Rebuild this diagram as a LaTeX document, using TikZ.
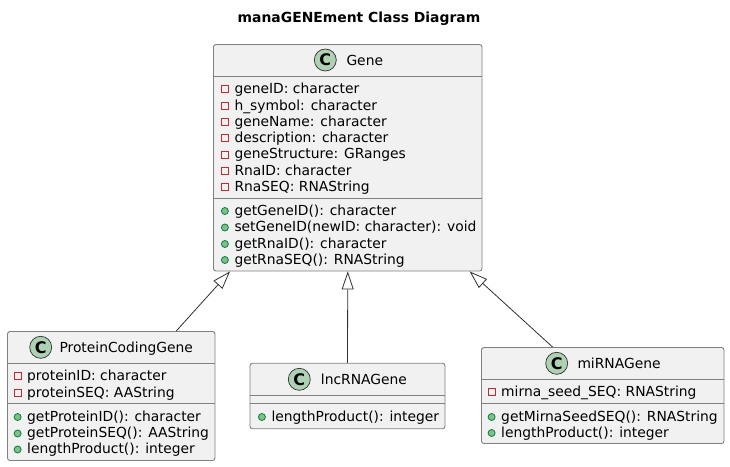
\documentclass[tikz,border=0pt]{standalone}
\usepackage{fontspec}
\setmainfont{DejaVu Sans}
\usepackage{tikz}
\usetikzlibrary{arrows.meta}
\definecolor{boxfill}{HTML}{F1F1F1}
\definecolor{boxline}{HTML}{808080}
\definecolor{arrowline}{HTML}{303030}
\definecolor{iconfill}{HTML}{ADD1B2}
\definecolor{privred}{HTML}{C82930}
\definecolor{pubfill}{HTML}{84BE84}
\definecolor{publine}{HTML}{038048}
\tikzstyle{classbox} = [draw=boxline,fill=boxfill,line width=0.9pt,rounded corners=2.5pt,inner sep=0pt]
\tikzstyle{classname} = [inner sep=0pt,anchor=west,text height=12pt,text depth=1.4pt,font=\fontsize{13.85}{16}\selectfont]
\tikzstyle{classicon} = [draw=arrowline,fill=iconfill,line width=0.7pt,circle,minimum size=22pt,inner sep=0pt,font=\fontsize{16}{18}\selectfont\bfseries]
\tikzstyle{privmark} = [draw=privred,line width=0.9pt,minimum size=7pt,inner sep=0pt,xshift=-5.5pt,yshift=-1pt]
\tikzstyle{pubmark} = [draw=publine,fill=pubfill,line width=0.8pt,circle,minimum size=7pt,inner sep=0pt,xshift=-5.5pt,yshift=-1pt]
\tikzstyle{priv} = [classname,label={[privmark]left:{}}]
\tikzstyle{pub} = [classname,label={[pubmark]left:{}}]
\tikzstyle{divider} = [boxline,line width=0.9pt]
\tikzstyle{extends} = [{Triangle[open,length=18pt,width=12pt,fill=white]}-,arrowline,line width=0.8pt]

\begin{document}
\begin{tikzpicture}[x=1pt,y=-1pt]
  \useasboundingbox (0,0) rectangle (730,466);
  \node (title)[inner sep=0pt,font=\fontsize{13.9}{16}\selectfont\bfseries] at (359,19) {manaGENEment Class Diagram};

  % Gene
  \node (gene)[classbox,minimum width=268.5pt,minimum height=226.5pt] at (347.75,157.75) {};
  \node (geneicon)[classicon] at (325.3,60) {C};
  \node (genename)[classname] at (346.3,60) {Gene};
  \draw[divider] (gene.west |- 0,76) -- (gene.east |- 0,76);
  \draw[divider] (gene.west |- 0,198.5) -- (gene.east |- 0,198.5);
  \node (g1)[priv] at (234.3,88) {geneID: character};
  \node (g2)[priv] at (234.3,105) {h\_symbol: character};
  \node (g3)[priv] at (234.3,121) {geneName: character};
  \node (g4)[priv] at (234.3,137) {description: character};
  \node (g5)[priv] at (234.3,153.5) {geneStructure: GRanges};
  \node (g6)[priv] at (234.3,170) {RnaID: character};
  \node (g7)[priv] at (234.3,186) {RnaSEQ: RNAString};
  \node (g8)[pub] at (234.3,210) {getGeneID(): character};
  \node (g9)[pub] at (234.3,226.5) {setGeneID(newID: character): void};
  \node (g10)[pub] at (234.3,243) {getRnaID(): character};
  \node (g11)[pub] at (234.3,259) {getRnaSEQ(): RNAString};

  % ProteinCodingGene
  \node (pcg)[classbox,minimum width=207.5pt,minimum height=129pt] at (111.25,396) {};
  \node (pcgicon)[classicon] at (40.7,347.3) {C};
  \node (pcgname)[classname] at (59.3,347.3) {ProteinCodingGene};
  \draw[divider] (pcg.west |- 0,363) -- (pcg.east |- 0,363);
  \draw[divider] (pcg.west |- 0,403.5) -- (pcg.east |- 0,403.5);
  \node (p1)[priv] at (27,375) {proteinID: character};
  \node (p2)[priv] at (27,392) {proteinSEQ: AAString};
  \node (p3)[pub] at (27,416) {getProteinID(): character};
  \node (p4)[pub] at (27,432.5) {getProteinSEQ(): AAString};
  \node (p5)[pub] at (27,448.5) {lengthProduct(): integer};

  % lncRNAGene
  \node (lnc)[classbox,minimum width=195pt,minimum height=65.5pt] at (347.5,396) {};
  \node (lncicon)[classicon] at (299.3,379.3) {C};
  \node (lncname)[classname] at (320.7,379.3) {lncRNAGene};
  \draw[divider] (lnc.west |- 0,395) -- (lnc.east |- 0,395);
  \draw[divider] (lnc.west |- 0,403.5) -- (lnc.east |- 0,403.5);
  \node (l1)[pub] at (271.3,416) {lengthProduct(): integer};

  % miRNAGene
  \node (mir)[classbox,minimum width=242.5pt,minimum height=96pt] at (602.75,395.5) {};
  \node (miricon)[classicon] at (556.7,363.3) {C};
  \node (mirname)[classname] at (577.3,363.3) {miRNAGene};
  \draw[divider] (mir.west |- 0,379) -- (mir.east |- 0,379);
  \draw[divider] (mir.west |- 0,403.5) -- (mir.east |- 0,403.5);
  \node (m1)[priv] at (501,391) {mirna\_seed\_SEQ: RNAString};
  \node (m2)[pub] at (501,416) {getMirnaSeedSEQ(): RNAString};
  \node (m3)[pub] at (501,432) {lengthProduct(): integer};

  \draw[extends] (gene.224.6) -- (pcg.45.8);
  \draw[extends] (gene.south) -- (lnc.north);
  \draw[extends] (gene.-43.04) -- (mir.136.9);
\end{tikzpicture}
\end{document}
